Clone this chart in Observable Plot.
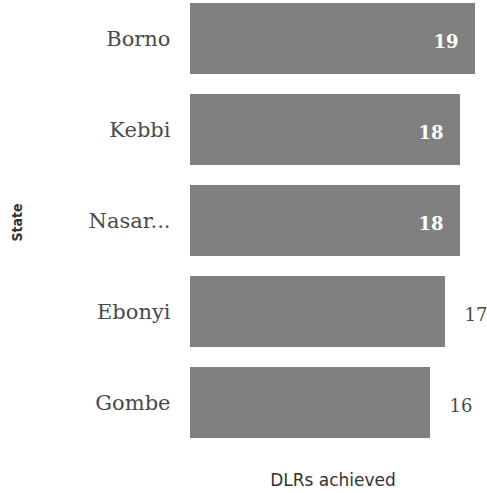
<!DOCTYPE html>
<html>
<head>
<meta charset="utf-8">
<script src="https://cdn.jsdelivr.net/npm/d3@7"></script>
<script src="https://cdn.jsdelivr.net/npm/@observablehq/plot@0.6"></script>
<style>
  html, body { margin: 0; padding: 0; background: #fff; }
  #chart svg { overflow: visible; display: block; }
</style>
</head>
<body>
<div id="chart"></div>
<script>
const states = ["Borno", "Kebbi", "Nasarawa", "Ebonyi", "Gombe"];
const dlrs = [19, 18, 18, 17, 16];
const xLabel = "DLRs achieved";
const yLabel = "State";

const data = states.map((s, i) => ({state: s, value: dlrs[i]}));
const inside = data.filter(d => d.value >= 18);
const outside = data.filter(d => d.value < 18);

const chart = Plot.plot({
  width: 487,
  height: 493,
  marginLeft: 190,
  marginRight: 12,
  marginTop: 1,
  marginBottom: 54,
  style: {background: "#fff"},
  x: {domain: [0, 19], axis: null},
  y: {domain: states, paddingInner: 0.22, paddingOuter: 0, axis: null},
  marks: [
    Plot.barX(data, {y: "state", x: "value", fill: "#808080"}),
    Plot.axisY({
      tickSize: 0,
      tickPadding: 20,
      label: null,
      fontSize: 21,
      fontFamily: "DejaVu Serif, serif",
      fill: "#4a4a4a",
      tickFormat: s => s.length > 6 ? s.slice(0, 5) + "..." : s
    }),
    Plot.text(inside, {
      y: "state", x: "value", text: d => String(d.value),
      textAnchor: "end", dx: -17, dy: 3, fill: "#ffffff",
      fontSize: 18, fontFamily: "DejaVu Serif, serif", fontWeight: "bold"
    }),
    Plot.text(outside, {
      y: "state", x: "value", text: d => String(d.value),
      textAnchor: "start", dx: 19, dy: 3, fill: "#4a4a4a",
      fontSize: 18, fontFamily: "DejaVu Serif, serif"
    }),
    Plot.text([yLabel], {
      frameAnchor: "left", textAnchor: "middle", dx: -173, dy: 2, rotate: -90, text: d => d,
      fontSize: 14, fontFamily: "DejaVu Sans Condensed, DejaVu Sans, sans-serif",
      fontWeight: "bold", fill: "#333"
    }),
    Plot.text([xLabel], {
      frameAnchor: "bottom", textAnchor: "middle", dy: 46, dx: 0, text: d => d,
      fontSize: 17, fontFamily: "DejaVu Sans, sans-serif", fill: "#333"
    })
  ]
});
document.getElementById("chart").appendChild(chart);
</script>
</body>
</html>
